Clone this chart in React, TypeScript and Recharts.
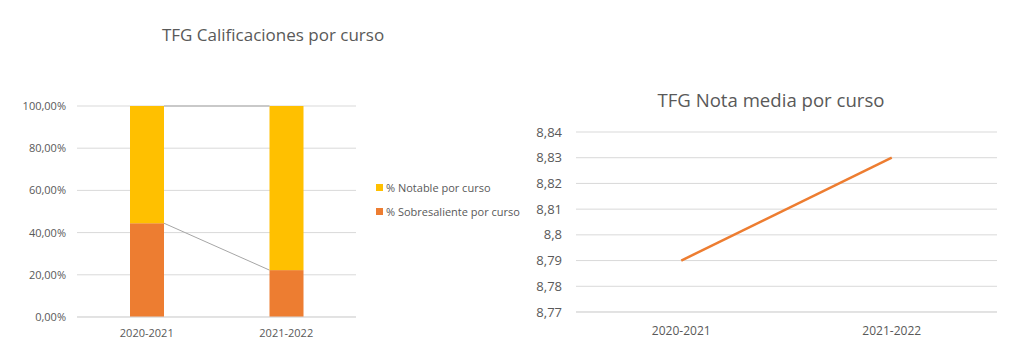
import React from 'react';
import { BarChart, Bar, XAxis, YAxis, CartesianGrid, Legend, LineChart, Line } from 'recharts';

const courses = ['2020-2021', '2021-2022'];
const sobresaliente = [44.44, 22.22];
const notable = [55.56, 77.78];
const percentTicks = [0, 20, 40, 60, 80, 100];
const notaMedia = [8.79, 8.83];
const notaTicks = [8.77, 8.78, 8.79, 8.8, 8.81, 8.82, 8.83, 8.84];

const barData = courses.map((c, i) => ({ curso: c, sob: sobresaliente[i], not: notable[i] }));
const lineData = courses.map((c, i) => ({ curso: c, nota: notaMedia[i] }));

const TEXT = '#595959';
const GRID = '#d9d9d9';
const FONT = '"Open Sans", "DejaVu Sans", sans-serif';
const ORANGE = '#ED7D31';
const YELLOW = '#FFC000';

const store: Record<string, any[]> = { sob: [], not: [] };

const makeShape = (fill: string, key: string) => (props: any) => {
  const { x, y, width, height } = props;
  const idx = typeof props.index === 'number' ? props.index : courses.indexOf(props.payload?.curso);
  store[key][idx] = { x, y, width };
  const prev = idx > 0 ? store[key][idx - 1] : null;
  return (
    <g>
      <rect x={x} y={y} width={width} height={height} fill={fill} />
      {prev && (
        <line x1={prev.x + prev.width} y1={prev.y} x2={x} y2={y} stroke="#a6a6a6" strokeWidth={1} />
      )}
    </g>
  );
};

const pctFmt = (v: number) => v.toFixed(2).replace('.', ',') + '%';
const notaFmt = (v: number) => String(Math.round(v * 100) / 100).replace('.', ',');

const legendItems = [
  { label: '% Notable por curso', color: YELLOW },
  { label: '% Sobresaliente por curso', color: ORANGE },
];

const LegendContent = () => (
  <div style={{ fontFamily: FONT, fontSize: 11, color: TEXT }}>
    {legendItems.map((it) => (
      <div key={it.label} style={{ display: 'flex', alignItems: 'center', height: 24, whiteSpace: 'nowrap' }}>
        <span style={{ display: 'inline-block', width: 7, height: 7, background: it.color, marginRight: 3 }} />
        <span>{it.label}</span>
      </div>
    ))}
  </div>
);

export default function App() {
  return (
    <div style={{ position: 'absolute', left: 0, top: 0, width: 1028, height: 362, background: '#fff', fontFamily: FONT }}>
      <div style={{ position: 'absolute', left: 0, top: 0, width: 514, height: 362 }}>
        <div style={{ position: 'absolute', left: 0, width: 546, top: 23, textAlign: 'center', fontSize: 17, color: TEXT }}>
          TFG Calificaciones por curso
        </div>
        <BarChart width={514} height={362} data={barData} margin={{ top: 106, right: 158, bottom: 15, left: 0 }}>
          <CartesianGrid vertical={false} stroke={GRID} />
          <XAxis
            dataKey="curso"
            axisLine={{ stroke: GRID }}
            tickLine={false}
            tickSize={0}
            tickMargin={12}
            height={30}
            tick={{ fill: TEXT, fontSize: 11, fontFamily: FONT }}
          />
          <YAxis
            domain={[0, 100]}
            ticks={percentTicks}
            tickFormatter={pctFmt}
            axisLine={false}
            tickLine={false}
            tickSize={0}
            tickMargin={11}
            width={77}
            tick={{ fill: TEXT, fontSize: 11, fontFamily: FONT }}
          />
          <Legend
            layout="vertical"
            align="center"
            verticalAlign="middle"
            content={<LegendContent />}
            wrapperStyle={{ left: 376, top: 175, width: 150 }}
          />
          <Bar dataKey="sob" stackId="a" fill={ORANGE} barSize={34} isAnimationActive={false} shape={makeShape(ORANGE, 'sob')} />
          <Bar dataKey="not" stackId="a" fill={YELLOW} barSize={34} isAnimationActive={false} shape={makeShape(YELLOW, 'not')} />
        </BarChart>
      </div>
      <div style={{ position: 'absolute', left: 514, top: 0, width: 514, height: 362 }}>
        <div style={{ position: 'absolute', left: 0, width: 514, top: 87, textAlign: 'center', fontSize: 18.6, color: TEXT }}>
          TFG Nota media por curso
        </div>
        <LineChart width={514} height={362} data={lineData} margin={{ top: 132, right: 31, bottom: 20, left: 0 }}>
          <CartesianGrid vertical={false} stroke={GRID} />
          <XAxis
            dataKey="curso"
            scale="band"
            axisLine={{ stroke: GRID }}
            tickLine={false}
            tickSize={0}
            tickMargin={14}
            height={30}
            tick={{ fill: TEXT, fontSize: 12, fontFamily: FONT }}
          />
          <YAxis
            domain={[8.77, 8.84]}
            ticks={notaTicks}
            tickFormatter={notaFmt}
            axisLine={false}
            tickLine={false}
            tickSize={0}
            tickMargin={14}
            width={62}
            tick={{ fill: TEXT, fontSize: 13, fontFamily: FONT }}
          />
          <Line dataKey="nota" stroke={ORANGE} strokeWidth={2.5} dot={false} isAnimationActive={false} />
        </LineChart>
      </div>
    </div>
  );
}
